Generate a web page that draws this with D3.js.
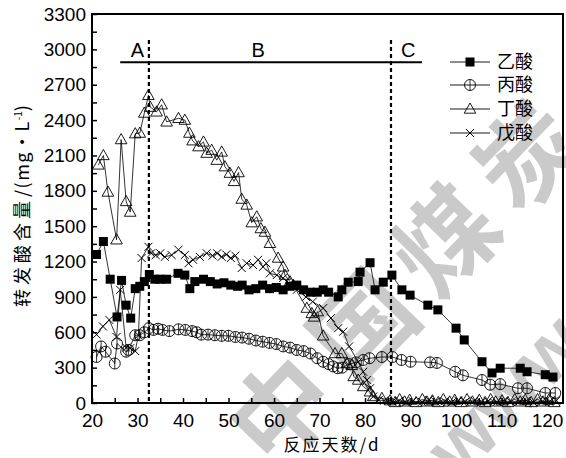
<!DOCTYPE html>
<html>
<head>
<meta charset="utf-8">
<script src="https://cdn.jsdelivr.net/npm/d3@7"></script>
<style>
  body { margin: 0; background: #fff; }
  svg { display: block; }
  .tick text { font-family: "Liberation Sans", Arial, sans-serif; font-size: 19px; fill: #000; }
</style>
</head>
<body>
<svg id="chart"></svg>
<script>
// set up constants
const width = 566;
const height = 458;

// data: [day, mg/L]
const acetic = [
  [21, 1260], [22.5, 1370], [24, 1050], [25.5, 730], [26.5, 1040], [27.5, 830], [28.5, 720],
  [29.5, 970], [30.5, 990], [31.5, 1030], [32.6, 1090], [33.8, 1050], [34.9, 1050], [36.4, 1050],
  [38.9, 1100], [40.4, 1085], [41.5, 970], [42.6, 1030], [44.5, 1050], [46, 1030], [47.5, 1010],
  [49, 1020], [50.5, 1000], [52, 990], [53, 1000], [54.5, 960], [56, 970], [57.5, 1000], [59, 970],
  [60.5, 980], [62, 960], [63.5, 990], [65, 1000], [66.5, 960], [68, 940], [69.5, 940], [70.8, 960],
  [72, 940], [74.1, 900], [74.9, 960], [76.3, 1025], [78.5, 1030], [78.9, 1110], [81.1, 1190],
  [82.2, 960], [84, 1025], [85.9, 1085], [88.1, 960], [89.9, 915], [93.8, 830], [96, 790],
  [100, 635], [101.8, 535], [105.7, 350], [107.9, 255], [109.7, 295], [114.1, 295], [115.6, 265],
  [119.6, 240], [121.3, 220]
];

const propionic = [
  [21, 390], [22, 480], [23, 435], [25, 335], [25.5, 505], [27.5, 435], [28, 450], [29.5, 575],
  [30.5, 575], [31.5, 600], [32.5, 635], [33.5, 620], [34.5, 630], [35.5, 620], [37, 610],
  [39, 625], [40.5, 620], [42, 610], [43, 600], [44, 580], [45.5, 580], [47, 575], [48.5, 570],
  [50, 570], [51.5, 560], [53, 555], [54.5, 545], [56, 530], [57.5, 520], [59, 510], [60.5, 500],
  [62, 480], [63.5, 470], [65, 450], [66.5, 440], [68, 420], [69.5, 380], [70.8, 350], [72, 330],
  [73, 310], [74, 295], [75, 300], [76.5, 330], [78, 345], [79.6, 365], [81, 380], [83.7, 390],
  [86, 390], [88, 365], [90, 350], [94.3, 345], [95.8, 340], [99.8, 265], [101.5, 235],
  [105.7, 195], [107.5, 155], [109.7, 160], [113.6, 125], [115.6, 125], [119.6, 85], [121.8, 85]
];

const butyric = [
  [21.4, 2020], [22.5, 2100], [23.5, 1790], [25.4, 1385], [26.4, 2235], [27.5, 1710], [28.4, 1620],
  [29.5, 2285], [30.5, 2290], [31.5, 2460], [32.4, 2610], [32.8, 2510], [34.2, 2470], [35.3, 2530],
  [36.4, 2385], [39, 2415], [40.4, 2400], [41.4, 2290], [42.1, 2225], [43.4, 2175], [44.5, 2215],
  [45.2, 2120], [46.3, 2145], [47.4, 2060], [48.5, 2130], [49.2, 2005], [50.3, 1950], [51.2, 1880],
  [52.2, 1955], [52.9, 1730], [54, 1680], [55.1, 1530], [56.2, 1580], [57.1, 1480], [58, 1450],
  [59.1, 1355], [60.9, 1230], [62, 1155], [62.4, 1085], [63.5, 1030], [64.2, 1000], [67.2, 805],
  [68.3, 760], [68.8, 730], [69.6, 775], [70.8, 570], [73.4, 420], [74.9, 420], [76, 335],
  [77.1, 320], [77.5, 225], [78.5, 195], [79.6, 140], [81.1, 95], [81.8, 55], [83.7, 40],
  [85.5, 20], [86.6, 5], [87.6, 30], [88.7, 10], [89.8, 25], [91.2, 5], [92.6, 30], [93.6, 10],
  [94.8, 20], [96.1, 5], [97.2, 30], [98.6, 10], [99.7, 25], [101.1, 5], [102.4, 30], [103.6, 10],
  [105.1, 25], [106.4, 5], [107.6, 30], [108.7, 10], [110.1, 20], [111.4, 5], [112.9, 30],
  [114.1, 10], [115.2, 25], [116.5, 5], [117.9, 30], [119.1, 10], [120.4, 25], [121.6, 5]
];

const valeric = [
  [21, 580], [22.4, 650], [23.8, 705], [25.4, 560], [26.2, 960], [27.5, 470], [28.4, 465],
  [29.5, 440], [30.2, 575], [30.9, 1230], [32.4, 1325], [33, 1270], [34, 1255], [35, 1270],
  [36, 1240], [37.5, 1255], [39, 1300], [40.4, 1255], [41.2, 1185], [42.2, 1215], [43.7, 1240],
  [45.2, 1270], [46.5, 1250], [47.5, 1270], [48.5, 1240], [49.5, 1260], [50.5, 1230], [51.5, 1250],
  [52.9, 1145], [54, 1185], [55.4, 1170], [56.5, 1215], [57.6, 1155], [58.3, 1185], [59.1, 1100],
  [60.6, 1085], [62, 1060], [63.5, 1010], [65, 960], [67, 900], [68.5, 860], [70.8, 805],
  [72.5, 720], [74.1, 635], [75.2, 605], [76.5, 480], [78.5, 350], [79.6, 265], [80.4, 195],
  [81.1, 125], [81.8, 55], [83, 25], [84.2, 20], [86, 10], [87.5, 20], [89, 5], [90.5, 15],
  [92.5, 10], [94, 25], [95.5, 10], [97.5, 15], [99, 5], [100.5, 20], [102, 10], [104, 20],
  [105.5, 5], [107, 15], [109, 10], [110.5, 20], [112, 10], [114, 15], [115.5, 20], [117, 5],
  [119, 15], [120.5, 10], [122, 20]
];

const seriesNames = ['乙酸', '丙酸', '丁酸', '戊酸'];
const stageLabels = ['A', 'B', 'C'];
const stageLabelDays = [30, 56.5, 89.5];
const stageBounds = [32.5, 85.7];
const stageLine = [26.2, 92.5, 2890];
const xTicks = d3.range(20, 125, 5);
const yTicks = d3.range(0, 3301, 150);

// create SVG element
const svg = d3.select('#chart')
  .attr('width', width)
  .attr('height', height);

// create scales
const xScale = d3.scaleLinear().domain([20, 123.5]).range([92, 563]);
const yScale = d3.scaleLinear().domain([0, 3300]).range([403, 14]);

// watermark
const wm = svg.append('g')
  .attr('fill', '#cacaca')
  .attr('font-family', '"Noto Sans CJK SC", sans-serif')
  .attr('font-weight', 'bold');
wm.append('text')
  .attr('transform', 'translate(412,278) rotate(-46)')
  .attr('text-anchor', 'middle')
  .attr('dy', '0.35em')
  .attr('font-size', 100)
  .attr('letter-spacing', 18)
  .text('中国煤炭');
wm.append('text')
  .attr('transform', 'translate(505,395) rotate(-46)')
  .attr('text-anchor', 'middle')
  .attr('dy', '0.35em')
  .attr('font-size', 80)
  .attr('font-family', '"Liberation Sans", sans-serif')
  .text('www');

// axes, ticks point inward
const xAxis = d3.axisBottom(xScale)
  .tickValues(xTicks)
  .tickSize(-5)
  .tickPadding(11)
  .tickFormat(d => d % 10 === 0 ? d : '');
const yAxis = d3.axisLeft(yScale)
  .tickValues(yTicks)
  .tickSize(-5)
  .tickPadding(6)
  .tickFormat(d => d % 300 === 0 ? d : '');

svg.append('g')
  .attr('transform', 'translate(0,403)')
  .call(xAxis)
  .call(g => g.select('.domain').remove())
  .selectAll('line').attr('stroke-width', 1.5);

svg.append('g')
  .attr('transform', 'translate(92,0)')
  .call(yAxis)
  .call(g => g.select('.domain').remove())
  .selectAll('line').attr('stroke-width', 1.5);

// frame
svg.append('rect')
  .attr('x', xScale(20))
  .attr('y', yScale(3300))
  .attr('width', xScale.range()[1] - xScale(20))
  .attr('height', yScale(0) - yScale(3300))
  .attr('fill', 'none')
  .attr('stroke', '#000')
  .attr('stroke-width', 2);

// stage markers
svg.append('line')
  .attr('x1', xScale(stageLine[0]))
  .attr('x2', xScale(stageLine[1]))
  .attr('y1', yScale(stageLine[2]))
  .attr('y2', yScale(stageLine[2]))
  .attr('stroke', '#000')
  .attr('stroke-width', 2);

svg.selectAll('.bound')
  .data(stageBounds)
  .enter()
  .append('line')
  .attr('x1', d => xScale(d))
  .attr('x2', d => xScale(d))
  .attr('y1', yScale(3080))
  .attr('y2', yScale(0))
  .attr('stroke', '#000')
  .attr('stroke-width', 2.2)
  .attr('stroke-dasharray', '4,3');

svg.selectAll('.stage')
  .data(stageLabels)
  .enter()
  .append('text')
  .attr('x', (d, i) => xScale(stageLabelDays[i]))
  .attr('y', yScale(2890) - 5)
  .attr('text-anchor', 'middle')
  .attr('font-family', '"Liberation Sans", Arial, sans-serif')
  .attr('font-size', 20)
  .text(d => d);

// markers
const line = d3.line().x(d => xScale(d[0])).y(d => yScale(d[1]));

function drawMarker(g, kind) {
  if (kind === 0) {
    g.append('rect').attr('x', -4.5).attr('y', -4.5).attr('width', 9).attr('height', 9).attr('fill', '#000');
  } else if (kind === 1) {
    g.append('circle').attr('r', 5.5).attr('fill', 'none').attr('stroke', '#000').attr('stroke-width', 0.9);
    g.append('line').attr('y1', -5.5).attr('y2', 5.5).attr('stroke', '#000').attr('stroke-width', 0.8);
  } else if (kind === 2) {
    g.append('path').attr('d', 'M0,-6L5.8,4.2L-5.8,4.2Z').attr('fill', 'none').attr('stroke', '#000').attr('stroke-width', 0.9);
  } else {
    g.append('path').attr('d', 'M-4,-4L4,4M-4,4L4,-4').attr('stroke', '#000').attr('stroke-width', 1);
  }
}

const allSeries = [acetic, propionic, butyric, valeric];

allSeries.forEach((data, k) => {
  svg.append('path')
    .datum(data)
    .attr('d', line)
    .attr('fill', 'none')
    .attr('stroke', '#000')
    .attr('stroke-width', 0.8);

  svg.append('g')
    .selectAll('g')
    .data(data)
    .enter()
    .append('g')
    .attr('transform', d => `translate(${xScale(d[0])},${yScale(d[1])})`)
    .each(function () { drawMarker(d3.select(this), k); });
});

// legend
const legendY = [62, 85, 109, 133];
const legend = svg.append('g');
seriesNames.forEach((name, i) => {
  const row = legend.append('g').attr('transform', `translate(450,${legendY[i]})`);
  row.append('line').attr('x1', 0).attr('x2', 40).attr('stroke', '#000').attr('stroke-width', 0.9);
  drawMarker(row.append('g').attr('transform', 'translate(20,0)'), i);
  row.append('text')
    .attr('x', 47)
    .attr('dy', '0.36em')
    .attr('font-family', '"Noto Sans CJK SC", sans-serif')
    .attr('font-size', 18)
    .text(name);
});

// axis titles
svg.append('text')
  .attr('x', 332)
  .attr('y', 451)
  .attr('text-anchor', 'middle')
  .attr('font-family', '"Noto Sans CJK SC", sans-serif')
  .attr('font-size', 17)
  .attr('letter-spacing', 2)
  .text('反应天数/d');

const yTitle = svg.append('text')
  .attr('transform', 'translate(29,206) rotate(-90)')
  .attr('text-anchor', 'middle')
  .attr('font-family', '"Noto Sans CJK SC", sans-serif')
  .attr('font-size', 18);
yTitle.append('tspan').attr('letter-spacing', 4).text('转发酸含量');
yTitle.append('tspan').attr('letter-spacing', 1.5).text('/(mg•L');
yTitle.append('tspan').attr('font-size', 10).attr('dy', -7).text('-1');
yTitle.append('tspan').attr('dy', 7).text(')');
</script>
</body>
</html>
